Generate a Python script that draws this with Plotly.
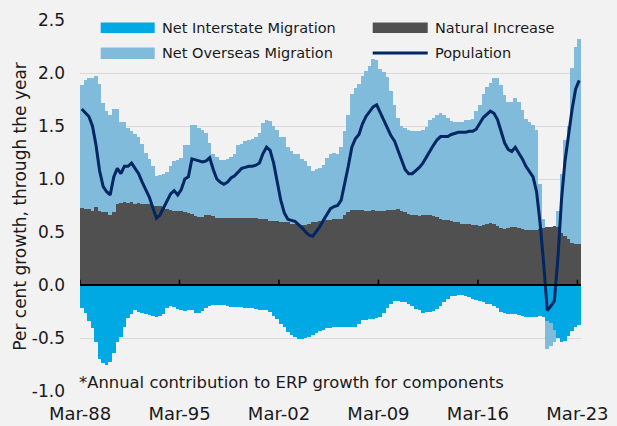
import plotly.graph_objects as go
import pandas as pd

# quarterly categories, Mar-88 .. Mar-23
quarters = [d.strftime('%b-%y') for d in pd.date_range('1988-03-01', '2023-03-01', freq='QS-MAR')]
tick_labels = ['Mar-88', 'Mar-95', 'Mar-02', 'Mar-09', 'Mar-16', 'Mar-23']

natural_increase = [
    0.73, 0.72, 0.72, 0.70, 0.74, 0.70, 0.69, 0.69, 0.66, 0.69,
    0.76, 0.77, 0.78, 0.77, 0.78, 0.76, 0.77, 0.76, 0.76, 0.76,
    0.75, 0.75, 0.75, 0.74, 0.72, 0.71, 0.70, 0.70, 0.70, 0.69,
    0.68, 0.67, 0.65, 0.64, 0.64, 0.66, 0.66, 0.65, 0.63, 0.63,
    0.63, 0.63, 0.63, 0.63, 0.63, 0.63, 0.63, 0.63, 0.63, 0.63,
    0.62, 0.62, 0.62, 0.60, 0.60, 0.60, 0.59, 0.59, 0.59, 0.58,
    0.58, 0.57, 0.57, 0.57, 0.58, 0.59, 0.59, 0.60, 0.60, 0.61,
    0.61, 0.62, 0.62, 0.62, 0.66, 0.69, 0.71, 0.71, 0.71, 0.71,
    0.70, 0.70, 0.71, 0.70, 0.70, 0.70, 0.71, 0.71, 0.71, 0.72,
    0.70, 0.69, 0.67, 0.66, 0.66, 0.65, 0.66, 0.66, 0.66, 0.65,
    0.64, 0.62, 0.61, 0.61, 0.60, 0.59, 0.59, 0.58, 0.58, 0.58,
    0.57, 0.57, 0.56, 0.57, 0.58, 0.585, 0.58, 0.56, 0.54, 0.53,
    0.54, 0.55, 0.55, 0.54, 0.53, 0.52, 0.52, 0.52, 0.52, 0.53,
    0.54, 0.55, 0.55, 0.56, 0.55, 0.49, 0.46, 0.43, 0.40, 0.39, 0.39,
]

net_overseas = [
    1.16, 1.21, 1.23, 1.25, 1.23, 1.20, 1.03, 0.95, 0.94, 0.97,
    0.90, 0.77, 0.76, 0.71, 0.67, 0.66, 0.63, 0.57, 0.49, 0.43,
    0.37, 0.28, 0.29, 0.31, 0.35, 0.41, 0.47, 0.48, 0.50, 0.63,
    0.64, 0.84, 0.86, 0.84, 0.82, 0.77, 0.68, 0.59, 0.58, 0.55,
    0.55, 0.56, 0.58, 0.61, 0.69, 0.70, 0.73, 0.74, 0.75, 0.77,
    0.81, 0.91, 0.94, 0.95, 0.90, 0.86, 0.81, 0.81, 0.71, 0.68,
    0.66, 0.67, 0.62, 0.60, 0.54, 0.49, 0.50, 0.50, 0.53, 0.59,
    0.63, 0.63, 0.62, 0.68, 0.79, 0.91, 1.09, 1.15, 1.19, 1.26,
    1.32, 1.37, 1.42, 1.42, 1.34, 1.31, 1.25, 1.12, 0.99, 0.86,
    0.80, 0.79, 0.79, 0.79, 0.79, 0.80, 0.80, 0.83, 0.90, 0.93,
    0.96, 1.00, 0.99, 0.97, 0.95, 0.95, 0.95, 0.96, 0.98, 0.98,
    1.00, 1.07, 1.14, 1.23, 1.29, 1.32, 1.37, 1.39, 1.35, 1.26,
    1.19, 1.18, 1.21, 1.19, 1.12, 1.05, 1.02, 0.99, 0.94, 0.42,
    0.08, -0.26, -0.22, -0.12, 0.15, 0.56, 0.91, 1.07, 1.65, 1.86, 1.93,
]

net_interstate = [
    -0.22, -0.26, -0.34, -0.41, -0.54, -0.70, -0.74, -0.75, -0.73, -0.64,
    -0.54, -0.49, -0.40, -0.31, -0.27, -0.24, -0.25, -0.26, -0.27, -0.28,
    -0.29, -0.30, -0.29, -0.27, -0.22, -0.20, -0.21, -0.23, -0.24, -0.245,
    -0.235, -0.24, -0.26, -0.265, -0.245, -0.22, -0.20, -0.185, -0.185, -0.185,
    -0.19, -0.20, -0.21, -0.21, -0.21, -0.21, -0.22, -0.22, -0.22, -0.23,
    -0.235, -0.235, -0.24, -0.25, -0.29, -0.32, -0.37, -0.40, -0.44, -0.47,
    -0.49, -0.51, -0.51, -0.50, -0.49, -0.47, -0.45, -0.43, -0.42, -0.41,
    -0.41, -0.40, -0.40, -0.395, -0.395, -0.395, -0.40, -0.40, -0.37, -0.33,
    -0.33, -0.32, -0.32, -0.31, -0.30, -0.26, -0.22, -0.18, -0.155, -0.155,
    -0.16, -0.165, -0.18, -0.20, -0.23, -0.24, -0.26, -0.255, -0.25, -0.245,
    -0.225, -0.20, -0.165, -0.13, -0.10, -0.10, -0.095, -0.095, -0.10, -0.11,
    -0.13, -0.145, -0.155, -0.165, -0.175, -0.18, -0.20, -0.215, -0.25, -0.26,
    -0.27, -0.27, -0.275, -0.28, -0.29, -0.30, -0.305, -0.305, -0.305, -0.29,
    -0.30, -0.34, -0.36, -0.42, -0.50, -0.54, -0.53, -0.48, -0.43, -0.40, -0.38,
]

population = [
    1.66, 1.62, 1.59, 1.50, 1.32, 1.08, 0.93, 0.88, 0.85, 1.02,
    1.10, 1.05, 1.12, 1.12, 1.15, 1.10, 1.05, 0.97, 0.90, 0.83,
    0.73, 0.63, 0.66, 0.73, 0.80, 0.86, 0.89, 0.85, 0.90, 1.00,
    1.02, 1.19, 1.18, 1.17, 1.16, 1.17, 1.20, 1.09, 1.00, 0.97,
    0.95, 0.97, 1.01, 1.03, 1.07, 1.10, 1.11, 1.12, 1.12, 1.13,
    1.15, 1.24, 1.30, 1.27, 1.15, 0.97, 0.80, 0.68, 0.62, 0.61,
    0.60, 0.57, 0.54, 0.50, 0.47, 0.46, 0.50, 0.55, 0.61, 0.67,
    0.72, 0.74, 0.75, 0.80, 0.95, 1.12, 1.30, 1.38, 1.42, 1.52,
    1.59, 1.64, 1.68, 1.70, 1.63, 1.55, 1.48, 1.41, 1.36, 1.27,
    1.17, 1.09, 1.05, 1.05, 1.08, 1.11, 1.15, 1.21, 1.27, 1.32,
    1.37, 1.40, 1.40, 1.40, 1.42, 1.43, 1.44, 1.44, 1.44, 1.45,
    1.45, 1.47, 1.52, 1.58, 1.61, 1.64, 1.62, 1.56, 1.45, 1.34,
    1.28, 1.26, 1.30, 1.25, 1.19, 1.12, 1.07, 1.02, 0.88, 0.58,
    0.20, -0.24, -0.20, -0.15, 0.25, 0.80, 1.17, 1.44, 1.66, 1.85, 1.93,
]

C_INTER = '#00a9e4'
C_NOM = '#80bbdb'
C_NI = '#505050'
C_POP = '#002664'
BG = '#f2f2f2'
FONT = 'DejaVu Sans'

# bar i sits in the slot between tick i and i+1
xpos = [i + 0.5 for i in range(len(quarters))]
tickvals = [quarters.index(t) for t in tick_labels]

fig = go.Figure()
fig.add_trace(go.Bar(x=xpos, y=natural_increase, name='Natural Increase',
                     marker=dict(color=C_NI, line_width=0), width=1))
fig.add_trace(go.Bar(x=xpos, y=net_interstate, name='Net Interstate Migration',
                     marker=dict(color=C_INTER, line_width=0), width=1))
fig.add_trace(go.Bar(x=xpos, y=net_overseas, name='Net Overseas Migration',
                     marker=dict(color=C_NOM, line_width=0), width=1))
fig.add_trace(go.Scatter(x=xpos, y=population, name='Population', mode='lines',
                         line=dict(color=C_POP, width=3)))

# plot area in pixels: x 80.3..581.3, y 20..391
L, R, T, B = 80.3, 581.3, 20, 391
W, H = R - L, B - T


def px(x):
    return (x - L) / W


def py(y):
    return (B - y) / H


shapes = [
    # axis line at zero with small upward tick marks
    dict(type='line', xref='x', yref='y', x0=0, x1=141, y0=0, y1=0,
         line=dict(color='black', width=2), layer='above'),
]
for tv in tickvals:
    shapes.append(dict(type='line', xref='x', yref='y', x0=tv, x1=tv, y0=0, y1=0.05,
                       line=dict(color='black', width=1.5), layer='above'))

# legend drawn by hand to get the wide swatches
shapes += [
    dict(type='rect', xref='paper', yref='paper', x0=px(101), x1=px(155), y0=py(33), y1=py(22.5),
         fillcolor=C_INTER, line_width=0, layer='above'),
    dict(type='rect', xref='paper', yref='paper', x0=px(101), x1=px(155), y0=py(59), y1=py(47.5),
         fillcolor=C_NOM, line_width=0, layer='above'),
    dict(type='rect', xref='paper', yref='paper', x0=px(373), x1=px(428), y0=py(33), y1=py(22.5),
         fillcolor=C_NI, line_width=0, layer='above'),
    dict(type='line', xref='paper', yref='paper', x0=px(373), x1=px(428), y0=py(53), y1=py(53),
         line=dict(color=C_POP, width=3), layer='above'),
]

legend_items = [
    ('Net Interstate Migration', 160, 28),
    ('Net Overseas Migration', 160, 53.5),
    ('Natural Increase', 433, 28),
    ('Population', 433, 53.5),
]
annotations = []
for txt, lx, ly in legend_items:
    annotations.append(dict(text=txt, xref='paper', yref='paper', x=px(lx), y=py(ly),
                            xanchor='left', yanchor='middle', showarrow=False,
                            font=dict(size=14.5, color='#1a1a1a', family=FONT)))

annotations.append(dict(text='Per cent growth, through the year', xref='paper', yref='paper',
                        x=px(20), y=py(206), textangle=-90, xanchor='center', yanchor='middle',
                        showarrow=False, font=dict(size=17, color='#1a1a1a', family=FONT)))
annotations.append(dict(text='*Annual contribution to ERP growth for components',
                        xref='paper', yref='paper', x=px(77), y=py(382),
                        xanchor='left', yanchor='middle', showarrow=False,
                        font=dict(size=16.4, color='#1a1a1a', family=FONT)))

yticks = [-1.0, -0.5, 0.0, 0.5, 1.0, 1.5, 2.0, 2.5]

fig.update_layout(
    width=617, height=426,
    margin=dict(l=L, r=617 - R, t=T, b=426 - B),
    paper_bgcolor=BG, plot_bgcolor=BG,
    barmode='relative', bargap=0,
    showlegend=False,
    font=dict(family=FONT, color='#1a1a1a'),
    shapes=shapes,
    annotations=annotations,
    xaxis=dict(
        range=[0, 141], tickvals=tickvals, ticktext=tick_labels,
        showgrid=False, zeroline=False, showline=False, ticks='',
        ticklabelstandoff=10, tickfont=dict(size=18), automargin=False,
    ),
    yaxis=dict(
        range=[-1, 2.5], tickvals=yticks, ticktext=['%.1f' % v for v in yticks],
        showgrid=True, gridcolor='#d9d9d9', gridwidth=1.3, zeroline=False,
        showline=False, ticks='', ticklabelstandoff=14, tickfont=dict(size=17),
        automargin=False,
    ),
)

# drop the default page margin so the figure fills the window
fig.write_html('out.html', config={'displayModeBar': False},
               post_script="document.body.style.margin='0';")
